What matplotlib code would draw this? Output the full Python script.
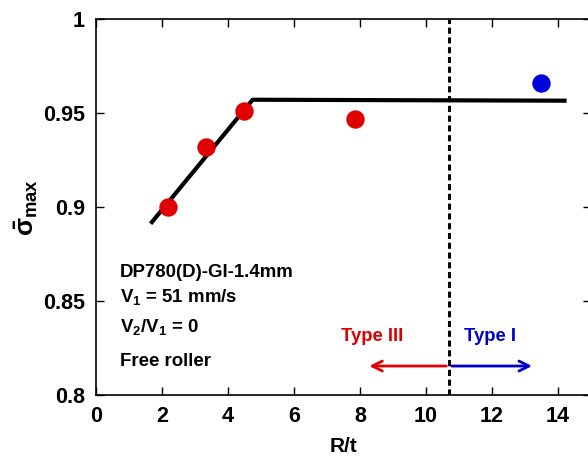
import matplotlib
matplotlib.use("Agg")
import matplotlib.pyplot as plt

plt.rcParams['font.family'] = ['Liberation Sans', 'DejaVu Sans']
plt.rcParams['mathtext.fontset'] = 'custom'
plt.rcParams['mathtext.rm'] = 'Liberation Sans:bold'
plt.rcParams['mathtext.it'] = 'Liberation Sans:bold'
plt.rcParams['mathtext.bf'] = 'Liberation Sans:bold'

# data
red_x = [2.2, 3.35, 4.5, 7.85]
red_y = [0.900, 0.932, 0.951, 0.947]
blue_x = [13.5]
blue_y = [0.966]
fit_x = [1.7, 4.75, 14.2]
fit_y = [0.892, 0.957, 0.9565]
boundary = 10.7

fig = plt.figure(figsize=(5.88, 4.59), dpi=100)
ax = fig.add_axes([0.163, 0.139, 0.842, 0.820])

ax.plot(fit_x, fit_y, color='black', lw=3, zorder=2)
ax.scatter(red_x, red_y, s=150, color='#e00000', zorder=3)
ax.scatter(blue_x, blue_y, s=150, color='#0000dd', zorder=3)
ax.axvline(boundary, color='black', ls=(0, (2, 1.2)), lw=2.2, zorder=1)

ax.annotate('', xy=(8.2, 0.8155), xytext=(boundary, 0.8155),
            arrowprops=dict(arrowstyle='->', color='#e00000', lw=2, mutation_scale=18))
ax.annotate('', xy=(13.3, 0.8155), xytext=(boundary, 0.8155),
            arrowprops=dict(arrowstyle='->', color='#0000cc', lw=2, mutation_scale=18))
ax.text(8.36, 0.831, 'Type III', color='#e00000', fontsize=13.3, fontweight='bold', ha='center', va='center')
ax.text(11.94, 0.831, 'Type I', color='#0000cc', fontsize=13.3, fontweight='bold', ha='center', va='center')

ax.text(0.72, 0.865, 'DP780(D)-GI-1.4mm', fontsize=13.4, fontweight='bold', va='center')
ax.text(0.72, 0.852, r'V$_1$ = 51 mm/s', fontsize=13.4, fontweight='bold', va='center')
ax.text(0.72, 0.836, r'V$_2$/V$_1$ = 0', fontsize=13.4, fontweight='bold', va='center')
ax.text(0.72, 0.818, 'Free roller', fontsize=13.4, fontweight='bold', va='center')

ax.set_xlim(0, 15)
ax.set_ylim(0.8, 1.0)
ax.set_xticks(range(0, 15, 2))
ax.set_yticks([0.8, 0.85, 0.9, 0.95, 1.0])
ax.set_yticklabels(['0.8', '0.85', '0.9', '0.95', '1'])
ax.tick_params(direction='in', top=True, right=True, length=6, width=1, labelsize=15.5, pad=8)
for lab in ax.get_xticklabels() + ax.get_yticklabels():
    lab.set_fontweight('bold')
for s in ax.spines.values():
    s.set_linewidth(1.2)

ax.set_xlabel('R/t', fontsize=15, fontweight='bold', labelpad=7)
ax.set_ylabel(r'$\bar{\sigma}_{max}$', fontsize=19, labelpad=2)

fig.savefig('out.png', dpi=100)
